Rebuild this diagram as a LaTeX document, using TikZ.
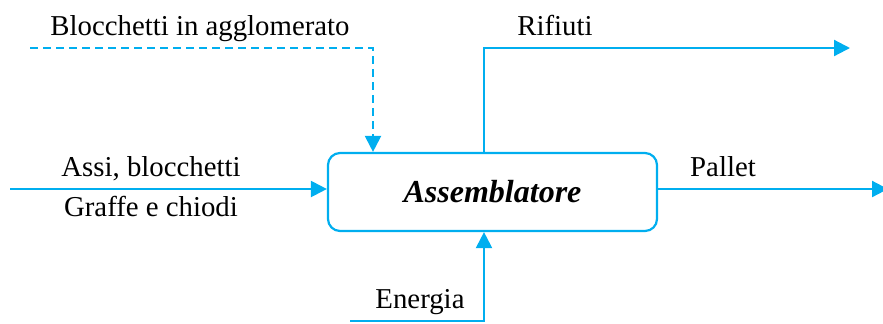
\documentclass[tikz,border=0pt]{standalone}
\usepackage{fontspec}
\setmainfont{Liberation Serif}
\usetikzlibrary{arrows.meta}
\definecolor{flow}{HTML}{00AEEF}
\tikzset{
  flowline/.style={draw=flow, line width=1.1pt, -{Triangle[length=8pt,width=8pt]}},
  dashline/.style={flowline, dash pattern=on 4pt off 2.5pt},
  procbox/.style={draw=flow, line width=1.1pt, rounded corners=6pt, minimum width=164.5pt, minimum height=39pt, inner sep=0pt, font=\fontsize{16}{19}\selectfont\bfseries\itshape},
  lbl/.style={inner sep=0pt, anchor=base, font=\fontsize{14.4}{17}\selectfont}
}
\begin{document}
\begin{tikzpicture}[x=0.5pt,y=-0.5pt]
  \useasboundingbox (0,0) rectangle (883,323);
  % process block
  \node[procbox] (asm) at (492.5,192) {Assemblatore};
  % anchor points of the flows
  \coordinate (inL) at (10,189);
  \coordinate (inLend) at (asm.west |- inL);
  \coordinate (dashS) at (30,48);
  \coordinate (dashC) at (373,48);
  \coordinate (dashE) at (asm.north -| dashC);
  \coordinate (wasteS) at (asm.north -| 484,0);
  \coordinate (wasteC) at (484,48);
  \coordinate (wasteE) at (850,48);
  \coordinate (outS) at (asm.east |- inL);
  \coordinate (outE) at (888,189);
  \coordinate (enS) at (350,321);
  \coordinate (enC) at (484,321);
  \coordinate (enE) at (asm.south -| enC);
  % flows
  \draw[flowline] (inL) -- (inLend);
  \draw[dashline] (dashS) -- (dashC) -- (dashE);
  \draw[flowline] (wasteS) -- (wasteC) -- (wasteE);
  \draw[flowline] (outS) -- (outE);
  \draw[flowline] (enS) -- (enC) -- (enE);
  % labels
  \node[lbl] (tAgg) at (200,35) {Blocchetti in agglomerato};
  \node[lbl] (tRif) at (555,35) {Rifiuti};
  \node[lbl] (tAssi) at (151,176) {Assi, blocchetti};
  \node[lbl] (tGraf) at (151,216) {Graffe e chiodi};
  \node[lbl] (tPal) at (723,176) {Pallet};
  \node[lbl] (tEn) at (420,308) {Energia};
\end{tikzpicture}
\end{document}
